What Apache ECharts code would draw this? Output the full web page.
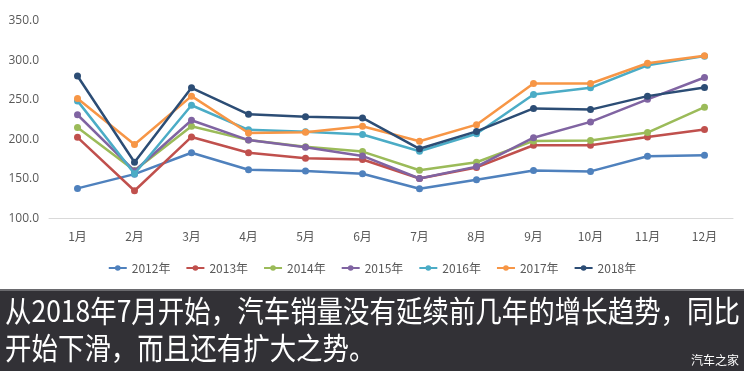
<!DOCTYPE html>
<html><head><meta charset="utf-8">
<script src="https://cdn.jsdelivr.net/npm/echarts@6/dist/echarts.min.js"></script>
<style>html,body{margin:0;padding:0;background:#fff}#c{width:744px;height:371px}</style>
</head><body><div id="c"></div>
<script>
const categories = ['1月','2月','3月','4月','5月','6月','7月','8月','9月','10月','11月','12月'];
const yTicks = [100, 150, 200, 250, 300, 350];
const seriesNames = ['2012年','2013年','2014年','2015年','2016年','2017年','2018年'];
const s2012 = [138, 156, 183, 161.5, 160, 156.5, 137.5, 149, 160.5, 159.5, 178.5, 180];
const s2013 = [202.5, 135, 203, 183, 176, 174.5, 150.5, 164.5, 192.5, 192.5, 203, 212.5];
const s2014 = [215, 160.5, 216.5, 199, 190.5, 184.5, 161, 171, 198, 198.5, 208.5, 240.5];
const s2015 = [231, 160, 224, 199, 190, 179, 150.5, 165.5, 202, 222, 250.5, 278];
const s2016 = [248.5, 156.5, 243, 212, 209.5, 206, 185, 207, 256.5, 265, 293.5, 305];
const s2017 = [251.5, 193.5, 254.5, 208, 209, 216.5, 197.5, 218.5, 270.5, 270.5, 296, 305.5];
const s2018 = [280, 171, 265, 231.5, 228.5, 227, 188, 210, 239, 237.5, 254.5, 265.5];
const colors = ['#4F81BD','#C0504D','#9BBB59','#8064A2','#4BACC6','#F79646','#2C4D75'];
const caption1 = '从2018年7月开始，汽车销量没有延续前几年的增长趋势，同比';
const caption2 = '开始下滑，而且还有扩大之势。';
const watermark = '汽车之家';

const allData = [s2012, s2013, s2014, s2015, s2016, s2017, s2018];
const capFont = '30px "Noto Sans CJK SC"';
const cv = document.createElement('canvas').getContext('2d');
cv.font = capFont;
const w1 = cv.measureText(caption1).width;
const sx = 735 / w1;

const chart = echarts.init(document.getElementById('c'), null, {renderer: 'canvas'});
chart.setOption({
  animation: false,
  color: colors,
  grid: {left: 49, right: 11, top: 20.5, bottom: 152.5},
  xAxis: {
    type: 'category', data: categories, boundaryGap: true,
    axisLine: {show: true, lineStyle: {color: '#d9d9d9', width: 1}},
    axisTick: {show: false},
    axisLabel: {color: '#595959', fontSize: 12, margin: 12, fontFamily: '"Noto Sans CJK SC"'}
  },
  yAxis: {
    type: 'value', min: yTicks[0], max: yTicks[yTicks.length-1], interval: 50,
    axisLine: {show: false}, axisTick: {show: false}, splitLine: {show: false},
    axisLabel: {color: '#595959', fontSize: 12, margin: 10, fontFamily: '"Open Sans"',
      formatter: v => v.toFixed(1)}
  },
  legend: {
    data: seriesNames, top: 257, left: 'center', itemGap: 15,
    itemWidth: 18, itemHeight: 7,
    textStyle: {color: '#595959', fontSize: 12, fontFamily: '"Noto Sans CJK SC"'}
  },
  series: seriesNames.map((n, i) => ({
    name: n, type: 'line', data: allData[i],
    symbol: 'circle', symbolSize: 7,
    lineStyle: {width: 2.5},
    z: 2 + i
  })),
  graphic: [
    {type: 'rect', shape: {x: 0, y: 290, width: 744, height: 81}, style: {fill: '#323136'}, z: 100},
    {type: 'rect', shape: {x: 0, y: 289, width: 744, height: 2}, style: {fill: '#6a6a6e'}, z: 101},
    {type: 'text', x: 5, y: 311, scaleX: sx, z: 102,
      style: {text: caption1, font: capFont, fill: '#ffffff', verticalAlign: 'middle'}},
    {type: 'text', x: 5, y: 348, scaleX: sx, z: 102,
      style: {text: caption2, font: capFont, fill: '#ffffff', verticalAlign: 'middle'}},
    {type: 'text', x: 739, y: 360, z: 102,
      style: {text: watermark, font: '12px "Noto Sans CJK SC"', fill: '#ffffff', align: 'right', verticalAlign: 'middle'}}
  ]
});
</script></body></html>
